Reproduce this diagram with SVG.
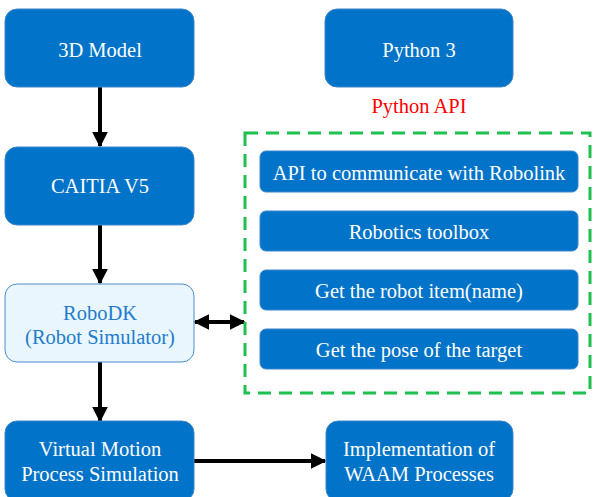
<svg xmlns="http://www.w3.org/2000/svg" width="594" height="497" viewBox="0 0 594 497">
<style>
.b{fill:#0173c8;stroke:#3d86cc;stroke-width:1}
.t{font-family:"Liberation Serif","Times New Roman",serif;font-size:20.5px;fill:#fff;text-anchor:middle}
.c{stroke:#000;stroke-width:4;fill:none}
</style>
<defs>
<marker id="ah" viewBox="0 0 10 10" refX="9" refY="5" markerWidth="4" markerHeight="4" orient="auto-start-reverse" markerUnits="strokeWidth">
<path d="M0,0 L10,5 L0,10 z" fill="#000"/>
</marker>
</defs>
<rect width="594" height="497" fill="#fff"/>
<g id="connectors">
<line class="c" x1="100" y1="87" x2="100" y2="146" marker-end="url(#ah)"/>
<line class="c" x1="100" y1="225" x2="100" y2="283" marker-end="url(#ah)"/>
<line class="c" x1="100" y1="362" x2="100" y2="421" marker-end="url(#ah)"/>
<line class="c" x1="194" y1="461" x2="325" y2="461" marker-end="url(#ah)"/>
<line class="c" x1="195" y1="322" x2="244" y2="322" marker-start="url(#ah)" marker-end="url(#ah)"/>
</g>
<g id="model3d"><rect class="b" x="5" y="9" width="189" height="78" rx="12"/><text class="t" x="100" y="57">3D Model</text></g>
<g id="python3"><rect class="b" x="325" y="9" width="188" height="78" rx="12"/><text class="t" x="419" y="57">Python 3</text></g>
<g id="caitia"><rect class="b" x="5" y="147" width="189" height="78" rx="12"/><text class="t" x="100" y="193">CAITIA V5</text></g>
<g id="robodk"><rect x="5" y="284" width="189" height="78" rx="12" fill="#e9f6fd" stroke="#4a8ccb" stroke-width="1"/>
<text class="t" x="100" y="320" style="fill:#1f7ccc">RoboDK</text><text class="t" x="100" y="344" style="fill:#1f7ccc">(Robot Simulator)</text></g>
<g id="virtual"><rect class="b" x="5" y="421" width="189" height="80" rx="12"/><text class="t" x="100" y="456">Virtual Motion</text><text class="t" x="100" y="481">Process Simulation</text></g>
<g id="impl"><rect class="b" x="326" y="421" width="187" height="80" rx="12"/><text class="t" x="419" y="456">Implementation of</text><text class="t" x="419" y="481">WAAM Processes</text></g>
<g id="pyapi">
<text x="419" y="113" style="font-family:'Liberation Serif','Times New Roman',serif;font-size:20.5px;fill:#f00;text-anchor:middle">Python API</text>
<rect x="245" y="133" width="345" height="260" fill="none" stroke="#1fc04f" stroke-width="3" stroke-dasharray="13,8"/>
</g>
<g id="api1"><rect class="b" x="260" y="151" width="318" height="41" rx="6"/><text class="t" x="419" y="180">API to communicate with Robolink</text></g>
<g id="api2"><rect class="b" x="260" y="211" width="318" height="40" rx="6"/><text class="t" x="419" y="239">Robotics toolbox</text></g>
<g id="api3"><rect class="b" x="260" y="270" width="318" height="40" rx="6"/><text class="t" x="419" y="298">Get the robot item(name)</text></g>
<g id="api4"><rect class="b" x="260" y="329" width="318" height="40" rx="6"/><text class="t" x="419" y="357">Get the pose of the target</text></g>
</svg>
